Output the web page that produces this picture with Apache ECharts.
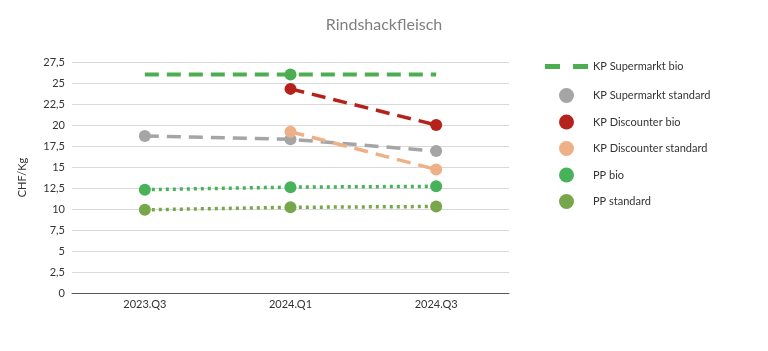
<!DOCTYPE html>
<html>
<head>
<meta charset="utf-8">
<script src="https://cdn.jsdelivr.net/npm/echarts@6/dist/echarts.min.js"></script>
<style>
  html, body { margin: 0; padding: 0; background: #fff; }
  #chart { width: 768px; height: 351px; }
</style>
</head>
<body>
<div id="chart"></div>
<script>
const categories = ['2023.Q3', '2024.Q1', '2024.Q3']
const supermarktBio = [26, 26, 26]
const supermarktStandard = [18.7, 18.3, 16.9]
const discounterBio = [null, 24.3, 20.0]
const discounterStandard = [null, 19.2, 14.7]
const ppBio = [12.3, 12.6, 12.7]
const ppStandard = [9.9, 10.2, 10.3]

const font = 'Lato, "Open Sans", sans-serif'

function line (name, data, color, dash, width) {
  return {
    name: name,
    type: 'line',
    data: data,
    symbol: 'circle',
    symbolSize: 12,
    connectNulls: false,
    itemStyle: { color: color },
    lineStyle: { color: color, type: dash, width: width },
    emphasis: { disabled: true },
    z: 3
  }
}

const chart = echarts.init(document.getElementById('chart'))
chart.setOption({
  animation: false,
  title: {
    text: 'Rindshackfleisch',
    left: 'center',
    top: 12,
    textStyle: { fontFamily: font, fontSize: 16, fontWeight: 'normal', color: '#7f7f7f' }
  },
  legend: [
    {
      data: [{ name: 'KP Supermarkt bio', icon: 'path://M0 0H15V5H0Z M28 0H43V5H28Z' }],
      orient: 'vertical',
      left: 540,
      top: 56,
      itemWidth: 43,
      itemHeight: 5,
      textStyle: { fontFamily: font, fontSize: 11, color: '#333', padding: [0, 0, 0, 0] }
    },
    {
      data: [
        { name: 'KP Supermarkt standard', icon: 'circle' },
        { name: 'KP Discounter bio', icon: 'circle' },
        { name: 'KP Discounter standard', icon: 'circle' },
        { name: 'PP bio', icon: 'circle' },
        { name: 'PP standard', icon: 'circle' }
      ],
      orient: 'vertical',
      left: 554,
      top: 83,
      itemWidth: 15,
      itemHeight: 15,
      itemGap: 11.5,
      textStyle: { fontFamily: font, fontSize: 11, color: '#333', padding: [0, 0, 0, 14] }
    }
  ],
  grid: { left: 72, right: 259, top: 62, bottom: 58 },
  xAxis: {
    type: 'category',
    data: categories,
    boundaryGap: true,
    axisLine: { lineStyle: { color: '#595959', width: 1 } },
    axisTick: { show: false },
    axisLabel: { fontFamily: font, fontSize: 11, color: '#333', margin: 6 }
  },
  yAxis: {
    type: 'value',
    min: 0,
    max: 27.5,
    interval: 2.5,
    name: 'CHF/Kg',
    nameLocation: 'middle',
    nameGap: 44,
    nameTextStyle: { fontFamily: font, fontSize: 11, color: '#333' },
    axisLine: { show: false },
    axisTick: { show: false },
    splitLine: { lineStyle: { color: '#d9d9d9' } },
    axisLabel: {
      fontFamily: font, fontSize: 11, color: '#333', margin: 7,
      formatter: v => String(v).replace('.', ',')
    }
  },
  series: [
    Object.assign(line('KP Supermarkt bio',
      supermarktBio.map((v, i) => i === 1 ? { value: v, symbol: 'circle' } : { value: v, symbol: 'none' }),
      '#4cae50', [14, 8], 4), { symbol: 'none', z: 2 }),
    line('KP Supermarkt standard', supermarktStandard, '#a5a5a5', [14, 8], 3.5),
    line('KP Discounter bio', discounterBio, '#b4221b', [14, 8], 3.5),
    line('KP Discounter standard', discounterStandard, '#eeb086', [14, 8], 3.5),
    line('PP bio', ppBio, '#47b25a', [3, 4], 3.5),
    line('PP standard', ppStandard, '#78a74b', [3, 4], 3.5)
  ]
})
</script>
</body>
</html>
